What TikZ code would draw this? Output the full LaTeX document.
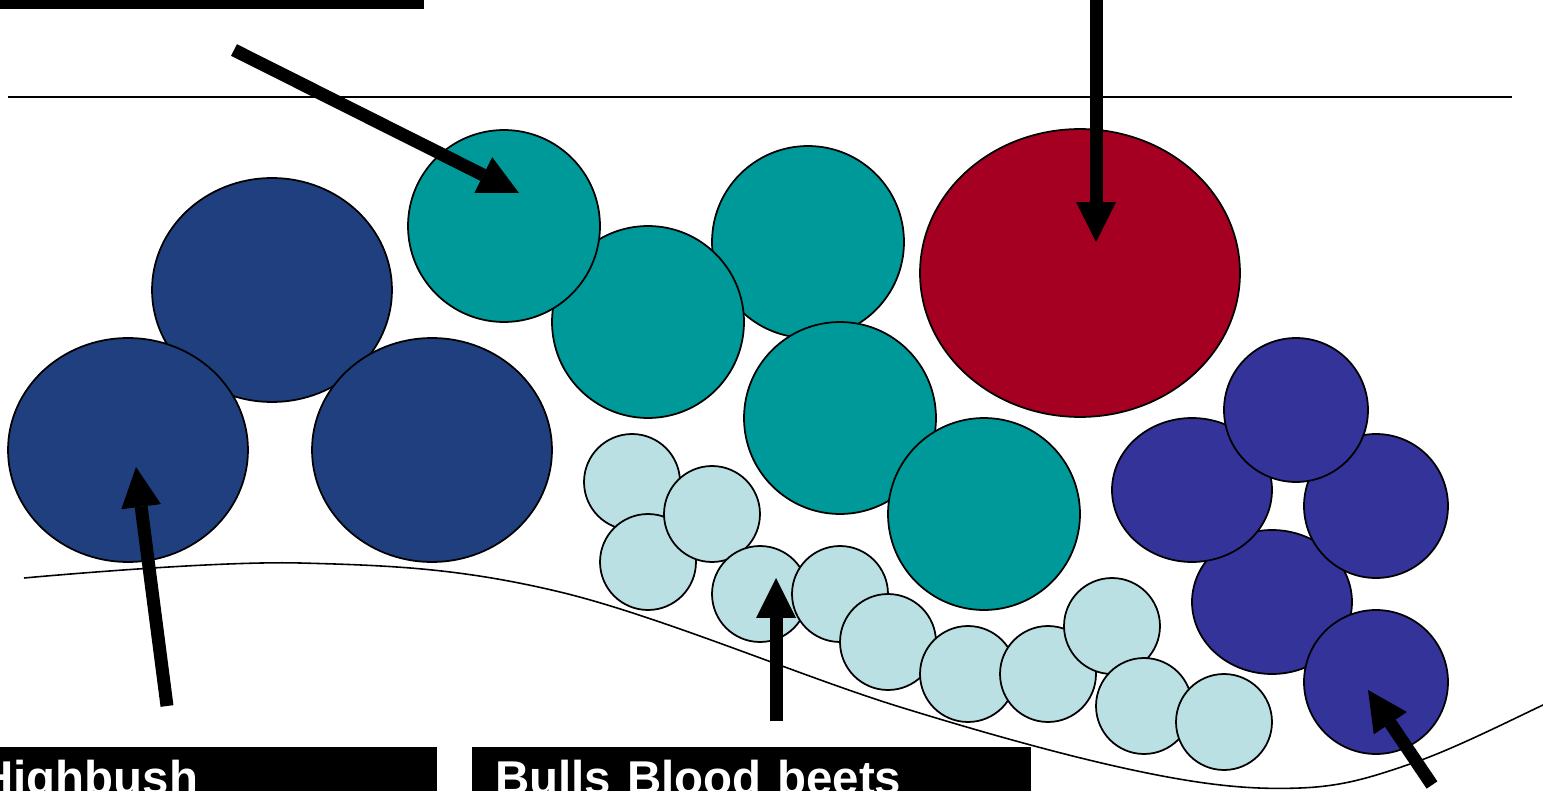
\documentclass[tikz,border=0pt]{standalone}
\usepackage{fontspec}
\setmainfont{Liberation Sans}
\usetikzlibrary{shapes.geometric,arrows.meta}
\definecolor{cNavy}{HTML}{1F3F7F}
\definecolor{cTeal}{HTML}{009999}
\definecolor{cRed}{HTML}{A50021}
\definecolor{cPurple}{HTML}{333399}
\definecolor{cLight}{HTML}{BBE0E3}
\begin{document}
\begin{tikzpicture}[x=0.02cm,y=-0.02cm,
  outl/.style={draw=black,line width=1pt,inner sep=0pt},
  navyell/.style={outl,ellipse,fill=cNavy,minimum width=4.8cm,minimum height=4.48cm},
  tealball/.style={outl,circle,fill=cTeal,minimum size=3.84cm},
  redell/.style={outl,ellipse,fill=cRed,minimum width=6.4cm,minimum height=5.76cm},
  purpball/.style={outl,circle,fill=cPurple,minimum size=2.88cm},
  purpell/.style={outl,ellipse,fill=cPurple,minimum width=3.2cm,minimum height=2.88cm},
  lightball/.style={outl,circle,fill=cLight,minimum size=1.92cm},
  bigarrow/.style={line width=0.26cm,-{Triangle[length=0.8cm,width=0.8cm,line width=0pt]}},
  labelbox/.style={fill=black,text=white,anchor=north west,inner xsep=0.46cm,inner ysep=0pt,
    text height=0.94cm,text depth=1cm,align=left,
    font=\bfseries\fontsize{27}{32}\selectfont},
]
\useasboundingbox (0,0) rectangle (1543,791);
\clip (0,0) rectangle (1543,791);

% top black box
\node (topbox) [fill=black,anchor=south west,minimum width=9.6cm,minimum height=2cm,inner sep=0pt] at (-56,9.5) {};

% horizontal line
\coordinate (hl) at (8,97);
\coordinate (hr) at (1512,97);
\draw[line width=1.1pt] (hl) -- (hr);

% ground curve
\draw[line width=0.9pt] plot[smooth,tension=0.6] coordinates {(24,578) (300,563) (560,592) (900,707) (1147,773) (1300,788) (1413,763) (1543,705) (1600,675)};

% navy ellipses
\node (e1) [navyell] at (272,290) {};
\node (e2) [navyell] at (128,450) {};
\node (e3) [navyell] at (432,450) {};

% teal circles
\node (t3) [tealball] at (808,242) {};
\node (t2) [tealball] at (648,322) {};
\node (t1) [tealball] at (504,226) {};
\node (t4) [tealball] at (840,418) {};
\node (t5) [tealball] at (984,514) {};

% red ellipse
\node (rd) [redell] at (1080,273) {};

% purple cluster
\node (p4) [purpell] at (1272,602) {};
\node (p1) [purpell] at (1192,490) {};
\node (p3) [purpball] at (1376,506) {};
\node (p2) [purpball] at (1296,410) {};
\node (p5) [purpball] at (1376,682) {};

% light blue circles
\node (l1) [lightball] at (632,482) {};
\node (l3) [lightball] at (648,562) {};
\node (l2) [lightball] at (712,514) {};
\node (l4) [lightball] at (760,594) {};
\node (l5) [lightball] at (840,594) {};
\node (l6) [lightball] at (888,642) {};
\node (l7) [lightball] at (968,674) {};
\node (l8) [lightball] at (1048,674) {};
\node (l9) [lightball] at (1112,626) {};
\node (l10) [lightball] at (1144,706) {};
\node (l11) [lightball] at (1224,722) {};

% arrows
\coordinate (a1s) at (234,50);   \coordinate (a1t) at (519,193);
\coordinate (a2s) at (1096,-20); \coordinate (a2t) at (1096,242);
\coordinate (a3s) at (167,706);  \coordinate (a3t) at (136,467);
\coordinate (a4s) at (776,721);  \coordinate (a4t) at (776,578);
\coordinate (a5s) at (1432,785); \coordinate (a5t) at (1368,690);
\draw[bigarrow] (a1s) -- (a1t);
\draw[bigarrow] (a2s) -- (a2t);
\draw[bigarrow] (a3s) -- (a3t);
\draw[bigarrow] (a4s) -- (a4t);
\draw[bigarrow] (a5s) -- (a5t);

% labels
\node (hb) [labelbox,text width=8.7cm] at (-44,747) {Highbush};
\node (bb) [labelbox,text width=10.26cm] at (472,747) {Bulls Blood beets};
\end{tikzpicture}
\end{document}
